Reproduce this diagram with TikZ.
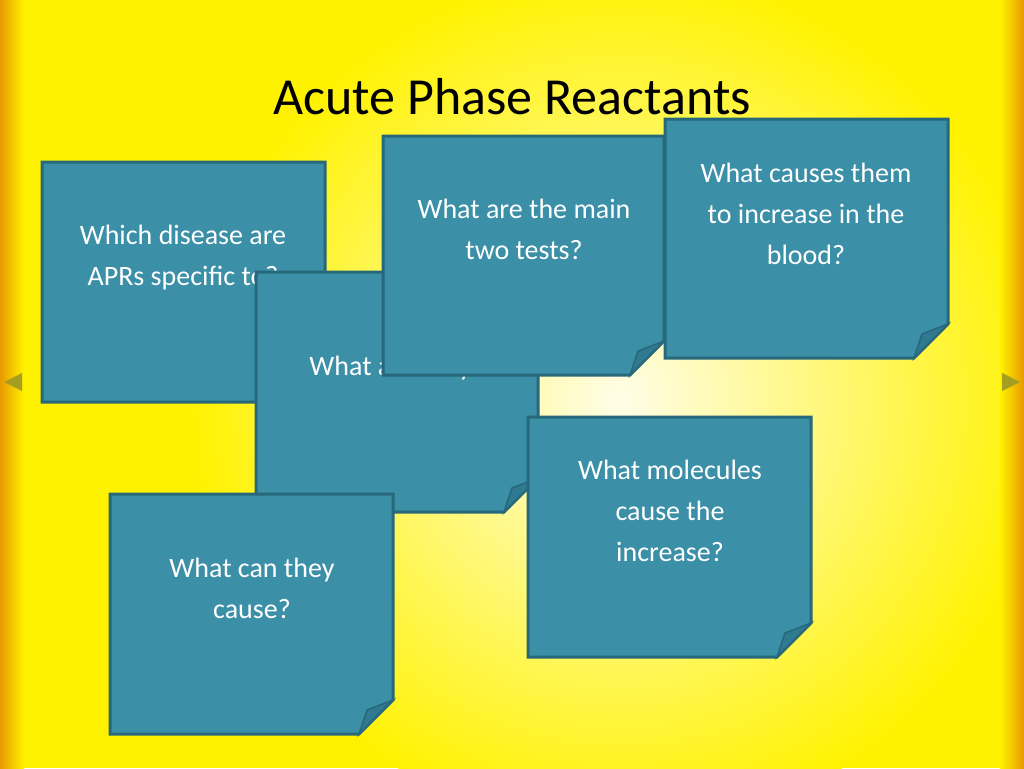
\documentclass[tikz,border=0pt]{standalone}
\usepackage{fontspec}
\setmainfont{Carlito}
\begin{document}
\begin{tikzpicture}[x=1pt,y=-1pt,
  notefill/.style={fill=noteblue,draw=noteedge,line width=3pt,line join=miter},
  flap/.style={fill=flapblue,draw=noteedge,line width=1.5pt},
  notetext/.style={text=white,font=\fontsize{28}{41}\selectfont,align=center,anchor=north,inner sep=0pt}]
\definecolor{noteblue}{HTML}{3B8FA7}
\definecolor{noteedge}{HTML}{27687A}
\definecolor{flapblue}{HTML}{2F7A90}
\definecolor{yel}{HTML}{FFF200}
\definecolor{lite}{HTML}{FFFDE8}
\definecolor{orng}{HTML}{E89A00}
\useasboundingbox (0,0) rectangle (1024,768);
\fill[yel] (0,0) rectangle (1024,768);
\shade[inner color=lite,outer color=yel] (620,400) circle (430);
\shade[left color=orng,right color=yel] (0,0) rectangle (24,768);
\shade[right color=orng,left color=yel] (1000,0) rectangle (1024,768);
\node[font=\fontsize{52}{60}\selectfont] (title) at (512,97) {Acute Phase Reactants};
\fill[olive!80] (4,382) -- (22,373) -- (22,391) -- cycle;
\fill[olive!80] (1020,382) -- (1002,373) -- (1002,391) -- cycle;
\newcommand{\note}[5]{%
  \draw[notefill] (#1,#2) -- (#3,#2) -- (#3,#4-34) -- (#3-34,#4) -- (#1,#4) -- cycle;
  \draw[flap] (#3-34,#4) -- (#3-26,#4-24) -- (#3,#4-34) -- cycle;
  \node[notetext] (#5) at ({(#1+#3)/2},#2) {};}
\note{42}{162}{325}{402}{a}
\node[notetext] (ta) at (183,225) {Which disease are\\APRs specific to?};
\note{256}{272}{538}{512}{b}
\node[notetext] (tb) at (397,356) {What are they?};
\note{383}{136}{664}{375}{c}
\node[notetext] (tc) at (524,199) {What are the main\\two tests?};
\note{665}{119}{948}{358}{d}
\node[notetext] (td) at (806,163) {What causes them\\to increase in the\\blood?};
\note{528}{417}{811}{657}{e}
\node[notetext] (te) at (670,460) {What molecules\\cause the\\increase?};
\note{110}{494}{393}{734}{f}
\node[notetext] (tf) at (252,558) {What can they\\cause?};
\end{tikzpicture}
\end{document}
